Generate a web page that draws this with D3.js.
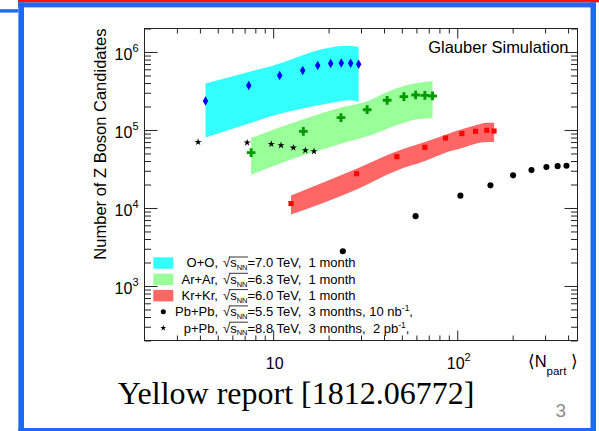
<!DOCTYPE html>
<html>
<head>
<meta charset="utf-8">
<script src="https://cdn.jsdelivr.net/npm/d3@7"></script>
<style>
  body { margin: 0; background: #fff; }
  svg text { font-family: "Liberation Sans", Arial, sans-serif; white-space: pre; }
  svg text.caption { font-family: "Liberation Serif", "Times New Roman", serif; }
</style>
</head>
<body>
<div id="chart"></div>
<script>
/* Z boson candidates vs <Npart>, Glauber simulation */

const width = 599,
    height = 431,
    margin = ({ top: 28.5, right: 21.5, bottom: 90.5, left: 144.5 });

// O+O (blue diamonds, cyan band)
const ooNpart = [4.29, 7.37, 10.85, 14.47, 17.46, 20.53, 23.44, 26.36, 29.13];
const ooZ = [235000, 371000, 499000, 578000, 670000, 711000, 723000, 717000, 697000];
const ooLow = [79800, 121000, 162000, 188000, 207000, 222000, 235000, 240000, 228000];
const ooHigh = [394000, 554000, 711000, 908000, 1050000, 1140000, 1190000, 1190000, 1160000];

// Ar+Ar (green crosses, light green band)
const arNpart = [7.59, 14.58, 23.35, 32.4, 41.6, 51.3, 59.4, 66.7, 73.4];
const arZ = [51200, 96100, 144000, 182000, 240000, 268000, 281000, 278000, 273000];
const arLow = [26700, 47300, 66800, 82900, 104000, 124000, 136000, 140000, 142000];
const arHigh = [78800, 137000, 194000, 233000, 307000, 367000, 397000, 413000, 421000];

// Kr+Kr (red squares, red band)
const krNpart = [12.5, 28.4, 47.0, 66.7, 86.4, 106, 125.7, 144.7, 158.5];
const krZ = [11400, 27500, 45500, 59900, 78800, 89800, 96100, 99100, 97000];
const krLow = [8260, 17300, 30300, 39900, 51200, 58600, 66800, 70000, 70000];
const krHigh = [14500, 31900, 53200, 70000, 87100, 102000, 115000, 124000, 124000];

// Pb+Pb (black dots)
const pbNpart = [23.9, 59.4, 104, 151.5, 201, 253, 305, 351, 392];
const pbZ = [2790, 7860, 14400, 19500, 26200, 30600, 33500, 34400, 34800];

// p+Pb (black stars)
const ppbNpart = [3.91, 7.22, 9.77, 11.03, 12.87, 14.95, 16.67];
const ppbZ = [70000, 68800, 66000, 63500, 59300, 54800, 53200];

// axes
const xMajor = [10, 100];
const xMajorExp = [1, 2];
const xMinor = [3, 4, 5, 6, 7, 8, 9, 20, 30, 40, 50, 60, 70, 80, 90, 200, 300, 400];
const yMajor = [1e3, 1e4, 1e5, 1e6];
const yMajorExp = [3, 4, 5, 6];
const yMinor = [200, 300, 400, 500, 600, 700, 800, 900,
    2e3, 3e3, 4e3, 5e3, 6e3, 7e3, 8e3, 9e3,
    2e4, 3e4, 4e4, 5e4, 6e4, 7e4, 8e4, 9e4,
    2e5, 3e5, 4e5, 5e5, 6e5, 7e5, 8e5, 9e5, 2e6];

// legend
const legendNames = ["O+O,", "Ar+Ar,", "Kr+Kr,", "Pb+Pb,", "p+Pb,"];
const legendEnergy = ["7.0", "6.3", "6.0", "5.5", "8.8"];
const legendRuns = ["1 month", "1 month", "1 month", "3 months, 10 nb", "3 months,  2 pb"];
const legendSup = ["", "", "", "-1", "-1"];

const bandColors = ["#33ffff", "#99ff99", "#ff6666"];

const svg = d3.select("#chart")
    .append("svg")
    .attr("width", width)
    .attr("height", height)
    .attr("viewBox", [0, 0, width, height]);

/* slide frame */
const slideBlue = "#1c6af2";
svg.append("rect").attr("x", 18).attr("y", 0).attr("width", 581).attr("height", 2.4).attr("fill", "#f51414");
svg.append("rect").attr("x", 18).attr("y", 2.4).attr("width", 578).attr("height", 5).attr("fill", slideBlue);
svg.append("rect").attr("x", 18.4).attr("y", 2.4).attr("width", 5.6).attr("height", 428.6).attr("fill", slideBlue);
svg.append("rect").attr("x", 590.5).attr("y", 2.4).attr("width", 5.5).attr("height", 428.6).attr("fill", slideBlue);
svg.append("rect").attr("x", 18.4).attr("y", 428).attr("width", 577.6).attr("height", 3).attr("fill", slideBlue);
svg.append("rect").attr("x", 0).attr("y", 9.2).attr("width", 18.4).attr("height", 3.4).attr("fill", slideBlue);

/* scales */
let x = d3.scaleLog()
    .domain([2, 450])
    .range([margin.left, width - margin.right]);

let y = d3.scaleLog()
    .domain([200, 2e6])
    .range([height - margin.bottom, margin.top]);

const zip = (n, lo, hi) => n.map((v, i) => ({ n: v, lo: lo[i], hi: hi[i] }));

/* bands */
let area = d3.area()
    .x(d => x(d.n))
    .y0(d => y(d.lo))
    .y1(d => y(d.hi))
    .curve(d3.curveMonotoneX);

const bands = [zip(ooNpart, ooLow, ooHigh), zip(arNpart, arLow, arHigh), zip(krNpart, krLow, krHigh)];
bands.forEach((b, i) => {
    svg.append("path")
        .datum(b)
        .attr("d", area)
        .attr("fill", bandColors[i]);
});

/* markers */
function drawPoints(nx, ny, type, size, color) {
    svg.append("g")
      .selectAll("path")
      .data(nx.map((v, i) => [v, ny[i]]))
      .join("path")
        .attr("transform", d => `translate(${x(d[0])},${y(d[1])})`)
        .attr("d", d3.symbol(type, size))
        .attr("fill", color);
}

drawPoints(ppbNpart, ppbZ, d3.symbolStar, 16, "#000");
drawPoints(ooNpart, ooZ, d3.symbolDiamond, 26, "#0000ff");
drawPoints(arNpart, arZ, d3.symbolCross, 42, "#009900");
drawPoints(krNpart, krZ, d3.symbolSquare, 26, "#ff0000");
drawPoints(pbNpart, pbZ, d3.symbolCircle, 29, "#000");

/* axes: ticks point inwards on all four sides */
const axisColor = "#222";
function addAxis(axis, tx, ty) {
    const g = svg.append("g")
        .attr("transform", `translate(${tx},${ty})`)
        .call(axis);
    g.select(".domain").remove();
    g.selectAll("line").attr("stroke", axisColor);
    return g;
}

const xb = height - margin.bottom, xt = margin.top;
const yl = margin.left, yr = width - margin.right;

addAxis(d3.axisBottom(x).tickValues(xMajor).tickSize(-10).tickFormat(""), 0, xb);
addAxis(d3.axisBottom(x).tickValues(xMinor).tickSize(-5).tickFormat(""), 0, xb);
addAxis(d3.axisTop(x).tickValues(xMajor).tickSize(-10).tickFormat(""), 0, xt);
addAxis(d3.axisTop(x).tickValues(xMinor).tickSize(-5).tickFormat(""), 0, xt);
addAxis(d3.axisLeft(y).tickValues(yMajor).tickSize(-13).tickFormat(""), yl, 0);
addAxis(d3.axisLeft(y).tickValues(yMinor).tickSize(-6.5).tickFormat(""), yl, 0);
addAxis(d3.axisRight(y).tickValues(yMajor).tickSize(-13).tickFormat(""), yr, 0);
addAxis(d3.axisRight(y).tickValues(yMinor).tickSize(-6.5).tickFormat(""), yr, 0);

svg.append("rect")
    .attr("x", yl).attr("y", xt)
    .attr("width", yr - yl).attr("height", xb - xt)
    .attr("fill", "none")
    .attr("stroke", axisColor);

/* tick labels */
yMajor.forEach((v, i) => {
    const t = svg.append("text")
        .attr("x", yl - 6)
        .attr("y", y(v) + 8.3)
        .attr("text-anchor", "end")
        .attr("font-size", 16)
        .text("10");
    t.append("tspan").attr("dy", -8.3).attr("font-size", 11).text(yMajorExp[i]);
});

xMajor.forEach((v, i) => {
    const t = svg.append("text")
        .attr("x", x(v) + 1.5)
        .attr("y", 369)
        .attr("text-anchor", "middle")
        .attr("font-size", 16)
        .text("10");
    if (xMajorExp[i] > 1) t.append("tspan").attr("dy", -8).attr("font-size", 11).text(xMajorExp[i]);
});

/* axis titles */
svg.append("text")
    .attr("transform", `translate(106,${margin.top}) rotate(-90)`)
    .attr("text-anchor", "end")
    .attr("font-size", 16.5)
    .text("Number of Z Boson Candidates");

const nt = svg.append("text")
    .attr("x", 578)
    .attr("y", 367)
    .attr("text-anchor", "end")
    .attr("font-size", 16.5)
    .text("\u27E8N");
nt.append("tspan").attr("dy", 8).attr("font-size", 11.5).text("part");
nt.append("tspan").attr("dy", -8).text(" \u27E9");

svg.append("text")
    .attr("x", 568.5)
    .attr("y", 53.3)
    .attr("text-anchor", "end")
    .attr("font-size", 16.5)
    .text("Glauber Simulation");

/* legend */
const legY0 = 262.8, legStep = 16.3, legFont = 13;
legendNames.forEach((name, i) => {
    const cy = legY0 + i * legStep;
    if (i < 3) {
        svg.append("rect")
            .attr("x", 153.3).attr("y", cy - 5.5)
            .attr("width", 20).attr("height", 11.5)
            .attr("fill", bandColors[i]);
    } else {
        svg.append("path")
            .attr("transform", `translate(163.3,${cy})`)
            .attr("d", d3.symbol(i === 3 ? d3.symbolCircle : d3.symbolStar, i === 3 ? 20 : 11))
            .attr("fill", "#000");
    }
    svg.append("text")
        .attr("x", 218)
        .attr("y", cy + 4.6)
        .attr("text-anchor", "end")
        .attr("font-size", legFont)
        .text(name);

    const t = svg.append("text")
        .attr("x", 223)
        .attr("y", cy + 4.6)
        .attr("font-size", legFont);
    t.append("tspan").text("\u221As");
    t.append("tspan").attr("dy", 2.8).attr("font-size", 7.5).text("NN");
    t.append("tspan").attr("dy", -2.8).text(`=${legendEnergy[i]} TeV,  ${legendRuns[i]}`);
    if (legendSup[i]) {
        t.append("tspan").attr("dy", -5).attr("font-size", 8.5).text(legendSup[i]);
        t.append("tspan").attr("dy", 5).text(",");
    }
    // overline of the square root
    const node = t.node();
    const x1 = node.getEndPositionOfChar(3).x;
    svg.append("line")
        .attr("x1", node.getStartPositionOfChar(0).x + 6).attr("x2", x1 + 0.5)
        .attr("y1", cy - 5.8).attr("y2", cy - 5.8)
        .attr("stroke", "#000")
        .attr("stroke-width", 0.8);
});

/* slide caption */
svg.append("text")
    .attr("class", "caption")
    .attr("x", 296)
    .attr("y", 404)
    .attr("text-anchor", "middle")
    .attr("font-size", 32)
    .text("Yellow report [1812.06772]");

svg.append("text")
    .attr("x", 566)
    .attr("y", 417.3)
    .attr("text-anchor", "end")
    .attr("font-size", 19)
    .attr("fill", "#8c8c8c")
    .text("3");
</script>
</body>
</html>
